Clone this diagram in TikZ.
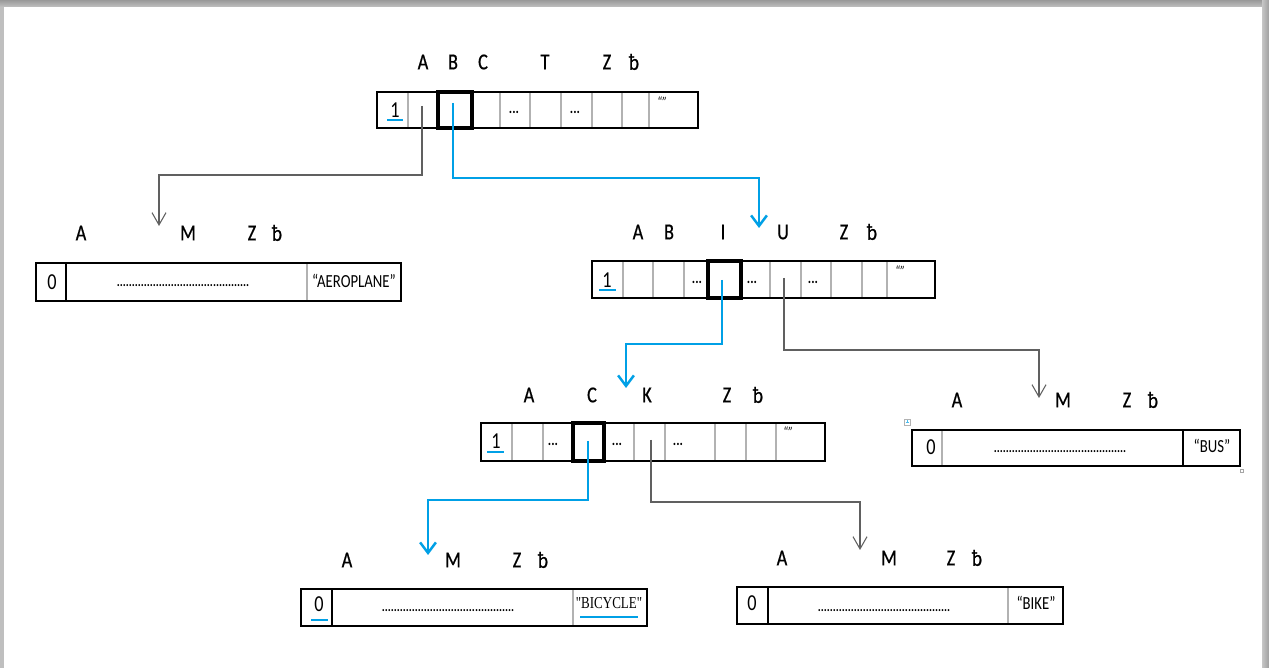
\documentclass[tikz,border=0pt]{standalone}
\usepackage{fontspec}
\setmainfont{Carlito}[FakeStretch=0.8]
\newfontfamily\quotefont{Liberation Serif}[FakeStretch=0.78]
\usetikzlibrary{arrows.meta}

\definecolor{linkblue}{RGB}{0,160,230}

\tikzset{
  frame/.style={draw=black,line width=0.6pt},
  sep/.style={draw=gray!60,line width=0.6pt},
  selcell/.style={draw=black,line width=1.8pt},
  hdr/.style={font=\fontsize{13}{13}\selectfont\addfontfeature{FakeBold=0.6},inner sep=0pt},
  digit/.style={font=\fontsize{13}{13}\selectfont,inner sep=0pt},
  ell/.style={font=\bfseries\fontsize{9}{9}\selectfont,inner sep=0pt},
  fill dots/.style={font=\bfseries\fontsize{8}{8}\selectfont,inner sep=0pt},
  word/.style={font=\fontsize{10.5}{10.5}\selectfont,inner sep=0pt},
  emptyq/.style={font=\itshape\fontsize{8.5}{8.5}\selectfont,inner sep=0pt},
  graylink/.style={draw=gray!75!black,line width=0.6pt,-{Straight Barb[length=7pt,width=8pt]}},
  bluelink/.style={draw=linkblue,line width=1.4pt,-{Straight Barb[length=6pt,width=9pt,line width=1.4pt]}},
  ulblue/.style={draw=linkblue,line width=1.3pt}
}

\begin{document}
\begin{tikzpicture}[x=0.02cm,y=-0.02cm]
  \useasboundingbox (0,0) rectangle (1269,668);
  % page shadow
  \fill[gray!50] (0,0) rectangle (1269,668);
  \shade[top color=gray!80,bottom color=gray!45] (0,0) rectangle (1269,8);
  \shade[left color=gray!45,right color=gray!75] (1262,0) rectangle (1269,668);
  \fill[white] (4,7) rectangle (1262,668);

  % root table
  \node[hdr] (rA) at (423,62) {A};
  \node[hdr] (rB) at (453,62) {B};
  \node[hdr] (rC) at (483,62) {C};
  \node[hdr] (rT) at (545,62) {T};
  \node[hdr] (rZ) at (607,62) {Z};
  \node[hdr] (rb) at (634,62) {ƀ};
  \draw[sep] (408,92)--(408,128) (500,92)--(500,128) (530,92)--(530,128) (561,92)--(561,128)
             (592,92)--(592,128) (622,92)--(622,128) (649,92)--(649,128);
  \draw[frame] (377,92) rectangle (698,128);
  \draw[selcell] (438,92) rectangle (472,128);
  \node[digit] (rone) at (395,110) {1};
  \draw[ulblue] (387,120)--(403,120);
  \node[ell] (rdots1) at (514,112) {...};
  \node[ell] (rdots2) at (575,112) {...};
  \node[emptyq] (rend) at (662,102) {“”};
  \coordinate (rcellA) at (422,106);
  \coordinate (rcellB) at (453,103);

  % leaf AEROPLANE
  \node[hdr] (aA) at (81,233) {A};
  \node[hdr] (aM) at (188,233) {M};
  \node[hdr] (aZ) at (252,233) {Z};
  \node[hdr] (ab) at (277,233) {ƀ};
  \draw[sep] (307,263)--(307,301);
  \draw[frame] (36,263) rectangle (401,301) (66,263)--(66,301);
  \node[digit] (azero) at (52,282) {0};
  \node[fill dots] (afill) at (183,286) {............................................};
  \node[word] (aword) at (354,281) {“AEROPLANE”};
  \coordinate (aero) at (159,226);

  % node B
  \node[hdr] (bA) at (638,232) {A};
  \node[hdr] (bB) at (669,232) {B};
  \node[hdr] (bI) at (723,232) {I};
  \node[hdr] (bU) at (783,232) {U};
  \node[hdr] (bZ) at (844,232) {Z};
  \node[hdr] (bb) at (872,232) {ƀ};
  \draw[sep] (623,261)--(623,298) (653,261)--(653,298) (684,261)--(684,298) (770,261)--(770,298)
             (801,261)--(801,298) (831,261)--(831,298) (862,261)--(862,298) (887,261)--(887,298);
  \draw[frame] (592,261) rectangle (935,298);
  \draw[selcell] (708,261) rectangle (741,298);
  \node[digit] (bone) at (607,280) {1};
  \draw[ulblue] (599,290)--(616,290);
  \node[ell] (bdots1) at (697,282) {...};
  \node[ell] (bdots2) at (752,282) {...};
  \node[ell] (bdots3) at (813,282) {...};
  \node[emptyq] (bend) at (900,271) {“”};
  \coordinate (bin) at (759,228);
  \coordinate (bcellI) at (722,280);
  \coordinate (bcellU) at (784,278);

  % leaf BUS
  \node[hdr] (uA) at (957,400) {A};
  \node[hdr] (uM) at (1063,400) {M};
  \node[hdr] (uZ) at (1127,400) {Z};
  \node[hdr] (ub) at (1153,400) {ƀ};
  \draw[sep] (942,430)--(942,466);
  \draw[frame] (912,430) rectangle (1240,466) (1183,430)--(1183,466);
  \node[digit] (uzero) at (931,447) {0};
  \node[fill dots] (ufill) at (1060,452) {............................................};
  \node[word] (uword) at (1212,446) {“BUS”};
  \draw[gray!70,line width=0.4pt] (1240,469) rectangle (1243,472);
  \draw[gray!60,line width=0.4pt] (904,419) rectangle (910,425);
  \draw[linkblue!70,line width=0.4pt] (905.5,422)--(908.5,422) (907,420.5)--(907,423.5);
  \coordinate (bus) at (1039,398);

  % node BI
  \node[hdr] (cA) at (529,395) {A};
  \node[hdr] (cC) at (592,395) {C};
  \node[hdr] (cK) at (647,395) {K};
  \node[hdr] (cZ) at (727,395) {Z};
  \node[hdr] (cb) at (758,395) {ƀ};
  \draw[sep] (512,423)--(512,461) (543,423)--(543,461) (634,423)--(634,461) (665,423)--(665,461)
             (715,423)--(715,461) (746,423)--(746,461) (776,423)--(776,461);
  \draw[frame] (481,423) rectangle (825,461);
  \draw[selcell] (573,423) rectangle (604,461);
  \node[digit] (cone) at (496,441) {1};
  \draw[ulblue] (487,452)--(504,452);
  \node[ell] (cdots1) at (553,444) {...};
  \node[ell] (cdots2) at (617,444) {...};
  \node[ell] (cdots3) at (678,444) {...};
  \node[emptyq] (cend) at (788,432) {“”};
  \coordinate (cin) at (626,388);
  \coordinate (ccellC) at (588,441);
  \coordinate (ccellK) at (651,440);

  % leaf BICYCLE
  \node[hdr] (yA) at (347,560) {A};
  \node[hdr] (yM) at (453,560) {M};
  \node[hdr] (yZ) at (517,560) {Z};
  \node[hdr] (yb) at (543,560) {ƀ};
  \draw[sep] (573,589)--(573,626);
  \draw[frame] (301,589) rectangle (647,626) (332,589)--(332,626);
  \node[digit] (yzero) at (319,604) {0};
  \draw[ulblue] (311,620)--(328,620);
  \node[fill dots] (yfill) at (448,611) {............................................};
  \node[font=\quotefont\fontsize{9.5}{9.5}\selectfont,inner sep=0pt] (yword) at (609,603) {"BICYCLE"};
  \draw[ulblue] (580,617)--(638,617);
  \coordinate (bicycle) at (428,555);

  % leaf BIKE
  \node[hdr] (kA) at (782,558) {A};
  \node[hdr] (kM) at (889,558) {M};
  \node[hdr] (kZ) at (951,558) {Z};
  \node[hdr] (kb) at (977,558) {ƀ};
  \draw[sep] (1008,587)--(1008,624);
  \draw[frame] (737,587) rectangle (1063,624) (768,587)--(768,624);
  \node[digit] (kzero) at (752,603) {0};
  \node[fill dots] (kfill) at (884,611) {............................................};
  \node[word] (kword) at (1036,603) {“BIKE”};
  \coordinate (bike) at (860,550);

  % links
  \draw[graylink] (rcellA) -- ++(0,69) -| (aero);
  \draw[bluelink] (rcellB) -- ++(0,75) -| (bin);
  \draw[bluelink] (bcellI) -- ++(0,64) -| (cin);
  \draw[graylink] (bcellU) -- ++(0,72) -| (bus);
  \draw[bluelink] (ccellC) -- ++(0,59) -| (bicycle);
  \draw[graylink] (ccellK) -- ++(0,62) -| (bike);
\end{tikzpicture}
\end{document}
